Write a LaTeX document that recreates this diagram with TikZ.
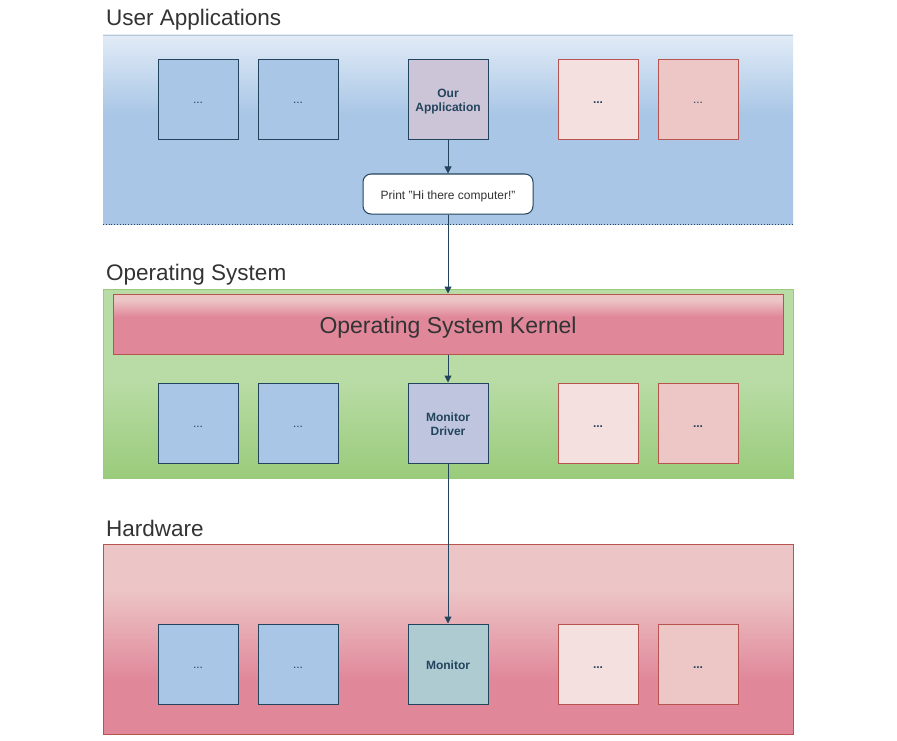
\documentclass[tikz,border=0pt]{standalone}
\usepackage{fontspec}
\setmainfont{Liberation Sans}
\usetikzlibrary{arrows.meta}
\definecolor{bluec}{HTML}{A9C6E6}
\definecolor{greenL}{HTML}{B9DCA6}
\definecolor{greenD}{HTML}{9ACB7B}
\definecolor{redL}{HTML}{ECC5C6}
\definecolor{redD}{HTML}{E0879A}
\definecolor{pinkbox}{HTML}{EDC6C6}
\definecolor{pinkedge}{HTML}{B85450}
\definecolor{navy}{HTML}{23445D}
\definecolor{txt}{HTML}{333333}
\definecolor{appc}{HTML}{CCC5D8}
\definecolor{drvc}{HTML}{BFC5DE}
\definecolor{monc}{HTML}{AFCBD2}
\pgfdeclareverticalshading{bluepanel}{100bp}{color(0bp)=(bluec); color(54bp)=(bluec); color(75bp)=(bluec!35!white); color(100bp)=(bluec!35!white)}
\pgfdeclareverticalshading{greenpanel}{100bp}{color(0bp)=(greenD); color(25bp)=(greenD); color(51bp)=(greenL); color(100bp)=(greenL)}
\pgfdeclareverticalshading{redpanel}{100bp}{color(0bp)=(redD); color(39bp)=(redD); color(63bp)=(redL); color(100bp)=(redL)}
\pgfdeclareverticalshading{kernelbar}{100bp}{color(0bp)=(redD); color(56bp)=(redD); color(70bp)=(redL); color(100bp)=(redL)}
\tikzset{
  title/.style={anchor=base west, font=\fontsize{22.5}{26}\selectfont, text=txt, inner sep=0pt},
  boxbase/.style={line width=1pt, minimum width=80pt, minimum height=80pt, inner sep=0pt, font=\fontsize{12}{14}\selectfont, text=navy, align=center, text height=10pt, text depth=2pt},
  bluebox/.style={boxbase, draw=navy, fill=bluec},
  pinkbox/.style={boxbase, draw=pinkedge, fill=pinkbox, font=\fontsize{12}{14}\selectfont\bfseries},
  named/.style={font=\fontsize{12}{14}\selectfont\bfseries, text height=26pt, text depth=2pt},
  named1/.style={font=\fontsize{12}{14}\selectfont\bfseries, text height=12pt, text depth=2pt},
  conn/.style={draw=navy, line width=1pt, -{Triangle[length=7pt,width=7pt]}},
}
\begin{document}
\begin{tikzpicture}[x=1pt,y=-1pt]
\useasboundingbox[fill=white] (0,0) rectangle (897,741);
% panels
\shade[shading=bluepanel] (103,35) rectangle (793,224);
\draw[bluec!80!black!60, line width=0.8pt] (103,35) -- (793,35);
\draw[navy, line width=0.8pt, dotted] (103,224) -- (793,224);
\shade[shading=greenpanel] (103,289) rectangle (793,478);
\draw[greenD, line width=0.8pt] (103,289) rectangle (793,478);
\shade[shading=redpanel] (103,544) rectangle (793,734);
\draw[pinkedge, line width=1pt] (103,544) rectangle (793,734);
% titles
\node[title] (t1) at (106,26) {User Applications};
\node[title] (t2) at (106,280) {Operating System};
\node[title] (t3) at (106,536) {Hardware};
% kernel
\node[shading=kernelbar, draw=pinkedge, line width=1pt, minimum width=670pt, minimum height=60pt, inner sep=0pt, font=\fontsize{23}{26}\selectfont, text=txt, text height=20pt, text depth=2pt] (kern) at (448,324) {Operating System Kernel};
% user apps
\node[bluebox] (a1) at (198,100) {...};
\node[bluebox] (a2) at (298,100) {...};
\node[bluebox, fill=appc, named] (app) at (448,100) {Our\\Application};
\node[pinkbox, fill=pinkbox!55!white] (a4) at (598,100) {...};
\node[pinkbox, font=\fontsize{12}{14}\selectfont] (a5) at (698,100) {...};
\node[draw=navy, line width=1pt, fill=white, rounded corners=8pt, minimum width=170pt, minimum height=40pt, inner sep=0pt, font=\fontsize{12}{14}\selectfont, text=txt, text height=12pt, text depth=2pt] (print) at (448,194) {Print "Hi there computer!"};
% OS
\node[bluebox] (o1) at (198,423) {...};
\node[bluebox] (o2) at (298,423) {...};
\node[bluebox, fill=drvc, named] (drv) at (448,423) {Monitor\\Driver};
\node[pinkbox, fill=pinkbox!55!white] (o4) at (598,423) {...};
\node[pinkbox] (o5) at (698,423) {...};
% HW
\node[bluebox] (h1) at (198,664) {...};
\node[bluebox] (h2) at (298,664) {...};
\node[bluebox, fill=monc, named1] (mon) at (448,664) {Monitor};
\node[pinkbox, fill=pinkbox!55!white] (h4) at (598,664) {...};
\node[pinkbox] (h5) at (698,664) {...};
% connectors
\draw[conn] (app.south) -- (print.north);
\draw[conn] (print.south) -- (kern.north);
\draw[conn] (kern.south) -- (drv.north);
\draw[conn] (drv.south) -- (mon.north);
\end{tikzpicture}
\end{document}
